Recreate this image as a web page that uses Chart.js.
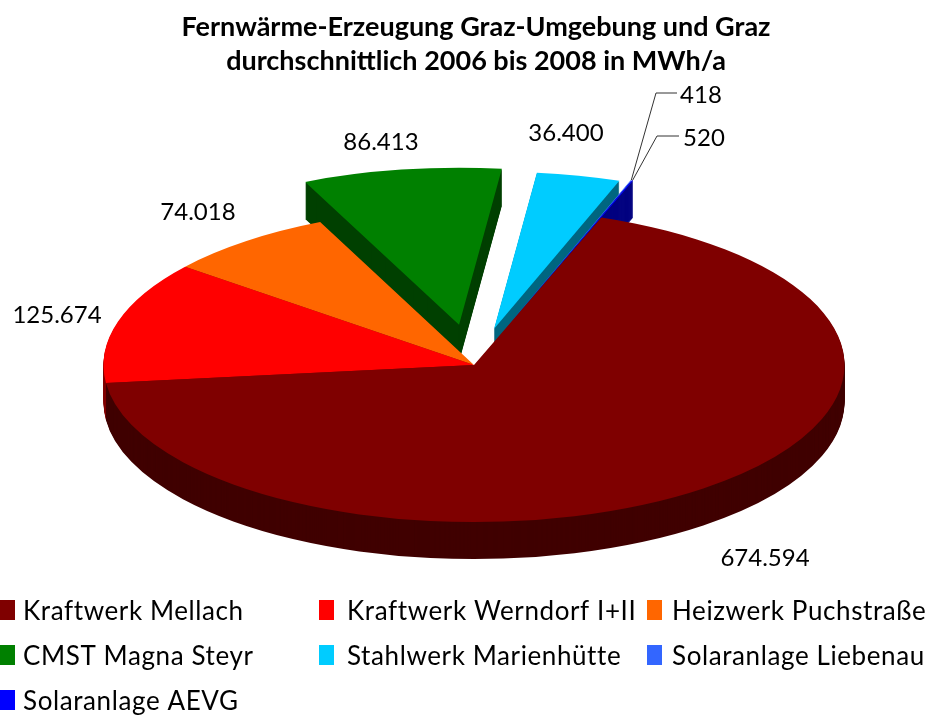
<!DOCTYPE html>
<html>
<head>
<meta charset="utf-8">
<style>html,body{margin:0;padding:0;background:#fff}canvas{display:block}</style>
<script src="https://cdn.jsdelivr.net/npm/chart.js@4/dist/chart.umd.min.js"></script>
</head>
<body>
<canvas id="c" width="933" height="715"></canvas>
<script>
const categories = ['Kraftwerk Mellach','Kraftwerk Werndorf I+II','Heizwerk Puchstraße','CMST Magna Steyr','Stahlwerk Marienhütte','Solaranlage Liebenau','Solaranlage AEVG'];
const values = [674594,125674,74018,86413,36400,418,520];
const titleLines = ['Fernwärme-Erzeugung Graz-Umgebung und Graz','durchschnittlich 2006 bis 2008 in MWh/a'];
const topColors = ['#7f0000','#ff0000','#ff6600','#008000','#00ccff','#3366ff','#0000ff'];
const wallColors = ['#400000','#800000','#803300','#004000','#006680','#000080','#000080'];

// layout of the fake 3D view
const explodeBy = [0,0,0,96,88,93,93];
const drawOrder = [4,5,6,3,2,1,0];
const view = {cx:474, cy:365, tilt:0.424, depth:37, radius:370.5, rotation:20.1};
const labelAt = [[765,558],[57,315],[198,212],[381,142],[566,133],[701,95],[704,138]];
const leaders = {5:[[656,93],[677,93]], 6:[[657,136],[679,136]]};
const legendCols = [0,319,647], legendTextX = [23,347,672], legendRows = [600,645,690];
const labelFont = '24px Lato', legendFont = '26px Lato';

const fmt = v => String(v).replace(/\B(?=(\d{3})+$)/g,'.');

const pie3d = {
  id:'pie3d',
  beforeDatasetDraw(chart,args){
    const ctx = chart.ctx, arcs = args.meta.data;
    drawOrder.forEach(i=>{
      const a = arcs[i], mid=(a.startAngle+a.endAngle)/2, e=explodeBy[i];
      const place = dy=>{
        ctx.save();
        ctx.translate(view.cx, view.cy+dy);
        ctx.scale(1,view.tilt);
        ctx.translate(Math.cos(mid)*e-a.x, Math.sin(mid)*e-a.y);
      };
      const base=a.options;
      const wall=Object.create(base); wall.backgroundColor=wallColors[i];
      a.options=wall;
      for(let d=view.depth;d>=1;d--){ place(d); a.draw(ctx,chart.chartArea); ctx.restore(); }
      a.options=base;
      place(0); a.draw(ctx,chart.chartArea); ctx.restore();
    });
    return false;
  },
  afterDraw(chart){
    const ctx=chart.ctx, arcs=chart.getDatasetMeta(0).data;
    ctx.save();
    // leader lines
    ctx.strokeStyle='#333'; ctx.lineWidth=1;
    Object.keys(leaders).forEach(k=>{
      const i=+k,a=arcs[i],mid=(a.startAngle+a.endAngle)/2,r=view.radius+explodeBy[i];
      ctx.beginPath();
      ctx.moveTo(view.cx+Math.cos(mid)*r, view.cy+Math.sin(mid)*r*view.tilt);
      leaders[k].forEach(p=>ctx.lineTo(p[0],p[1]));
      ctx.stroke();
    });
    // value labels
    ctx.fillStyle='#000'; ctx.font=labelFont; ctx.textAlign='center'; ctx.textBaseline='middle';
    values.forEach((v,i)=>ctx.fillText(fmt(v),labelAt[i][0],labelAt[i][1]));
    // legend grid
    ctx.font=legendFont; ctx.textAlign='left'; ctx.letterSpacing='0.6px';
    categories.forEach((c,i)=>{
      const col=i%3, y=legendRows[Math.floor(i/3)];
      ctx.fillStyle=topColors[i]; ctx.fillRect(legendCols[col],y,15,20);
      ctx.fillStyle='#000'; ctx.fillText(c,legendTextX[col],y+11.5);
    });
    ctx.restore();
  }
};

new Chart(document.getElementById('c'),{
  type:'pie',
  data:{labels:categories,datasets:[{data:values,backgroundColor:topColors,borderWidth:0}]},
  options:{
    responsive:false,animation:false,rotation:view.rotation,radius:view.radius,
    layout:{padding:{left:19,top:10}},
    plugins:{
      legend:{display:false},tooltip:{enabled:false},
      title:{display:true,text:titleLines,color:'#000',font:{family:'Lato',weight:'bold',size:27,lineHeight:1.26},padding:0}
    }
  },
  plugins:[pie3d]
});
</script>
</body>
</html>
